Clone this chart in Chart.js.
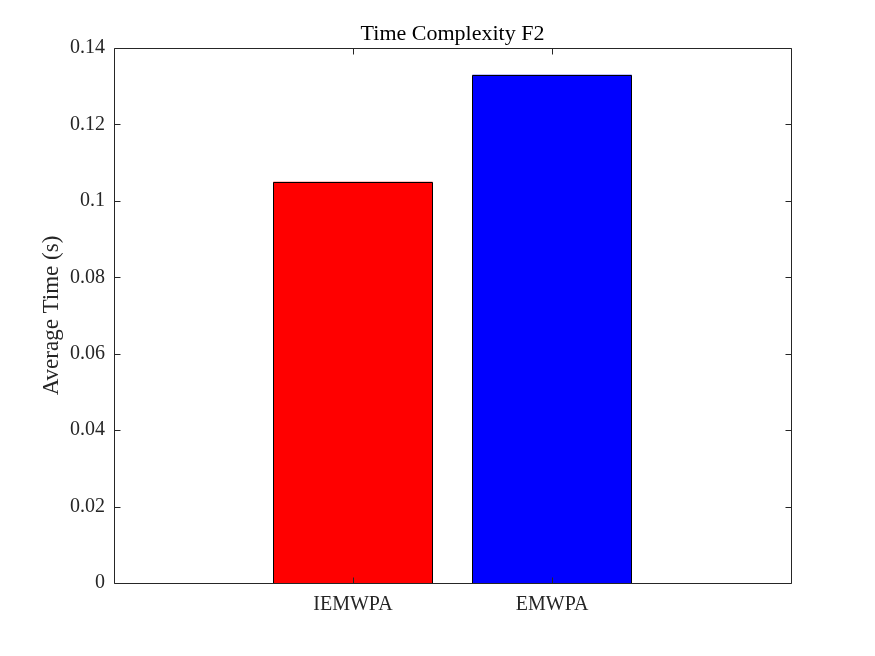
<!DOCTYPE html>
<html>
<head>
<meta charset="utf-8">
<script src="https://cdn.jsdelivr.net/npm/chart.js@4"></script>
<style>
  html, body { margin: 0; padding: 0; background: #fff; }
  #wrap { width: 875px; height: 656px; }
</style>
</head>
<body>
<div id="wrap"><canvas id="bar-chart" width="875" height="656"></canvas></div>
<script>
var methods = ['IEMWPA', 'EMWPA'];
var avgTimes = [0.105, 0.133];
var barColors = ['#ff0000', '#0000ff'];
var yTicks = [0, 0.02, 0.04, 0.06, 0.08, 0.1, 0.12, 0.14];
var chartTitle = 'Time Complexity F2';
var yTitle = 'Average Time (s)';

var axisColor = '#262626';
var serif = '"Liberation Serif", "Times New Roman", serif';

var points = methods.map(function (m, i) {
    return { x: i + 1, y: avgTimes[i] };
});

// matlab style box, crisp bar edges, inward ticks and title
var matlabFrame = {
    id: 'matlabFrame',
    afterDatasetsDraw: function (chart) {
        var ctx = chart.ctx;
        var a = chart.chartArea;
        var xs = chart.scales.x, ys = chart.scales.y;
        var L = Math.round(a.left) + 0.5, R = Math.round(a.right) + 0.5;
        var T = Math.round(a.top) + 0.5, B = Math.round(a.bottom) + 0.5;
        var tl = 6;
        ctx.save();
        ctx.lineWidth = 1;

        ctx.strokeStyle = '#000';
        ctx.beginPath();
        chart.getDatasetMeta(0).data.forEach(function (bar) {
            var bl = Math.round(bar.x - bar.width / 2) + 0.5;
            var br = Math.round(bar.x + bar.width / 2) - 0.5;
            var bt = Math.round(bar.y) + 0.5;
            ctx.moveTo(bl, B); ctx.lineTo(bl, bt); ctx.lineTo(br, bt); ctx.lineTo(br, B);
        });
        ctx.stroke();

        ctx.strokeStyle = axisColor;
        ctx.beginPath();
        ctx.rect(L, T, R - L, B - T);
        yTicks.forEach(function (v) {
            var y = Math.round(ys.getPixelForValue(v)) + 0.5;
            ctx.moveTo(L, y); ctx.lineTo(L + tl, y);
            ctx.moveTo(R, y); ctx.lineTo(R - tl, y);
        });
        methods.forEach(function (m, i) {
            var x = Math.round(xs.getPixelForValue(i + 1)) + 0.5;
            ctx.moveTo(x, B); ctx.lineTo(x, B - tl);
            ctx.moveTo(x, T); ctx.lineTo(x, T + tl);
        });
        ctx.stroke();
        ctx.fillStyle = '#000';
        ctx.font = '22px ' + serif;
        ctx.textAlign = 'center';
        ctx.textBaseline = 'middle';
        ctx.fillText(chartTitle, (a.left + a.right) / 2, 34);
        ctx.restore();
    }
};

var ctx = document.getElementById('bar-chart').getContext('2d');
var chart = new Chart(ctx, {
    type: 'bar',
    data: {
        datasets: [{
            data: points,
            backgroundColor: barColors,
            borderWidth: 0,
            barPercentage: 0.8,
            categoryPercentage: 1.0
        }]
    },
    options: {
        responsive: false,
        animation: false,
        layout: { padding: { top: 48, right: 84, left: 0, bottom: 0 } },
        plugins: {
            legend: { display: false },
            tooltip: { enabled: false }
        },
        scales: {
            x: {
                type: 'linear',
                min: -0.2,
                max: 3.2,
                offset: false,
                afterBuildTicks: function (scale) {
                    scale.ticks = methods.map(function (m, i) { return { value: i + 1 }; });
                },
                afterFit: function (scale) { scale.height = 73; },
                grid: { display: false, drawTicks: false, offset: false },
                border: { display: false },
                ticks: {
                    padding: 10,
                    color: axisColor,
                    font: { family: serif, size: 20 },
                    callback: function (v) { return methods[v - 1]; }
                }
            },
            y: {
                min: 0,
                max: 0.14,
                afterBuildTicks: function (scale) {
                    scale.ticks = yTicks.map(function (v) { return { value: v }; });
                },
                afterFit: function (scale) { scale.width = 114; },
                grid: { display: false, drawTicks: false },
                border: { display: false },
                ticks: {
                    padding: 9,
                    color: axisColor,
                    font: { family: serif, size: 20 },
                    callback: function (v) { return String(Number(v.toFixed(2))); }
                },
                title: {
                    display: true,
                    text: yTitle,
                    color: axisColor,
                    font: { family: serif, size: 23 },
                    padding: { top: 38, bottom: 0 }
                }
            }
        }
    },
    plugins: [matlabFrame]
});
</script>
</body>
</html>
